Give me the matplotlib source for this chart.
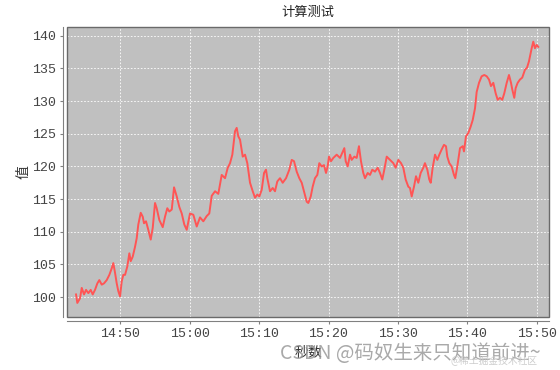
"""计算测试 -- time series of a value sampled over roughly one hour (14:43 - 15:50)."""
from datetime import datetime, timedelta

import matplotlib
matplotlib.use("Agg")
import matplotlib.pyplot as plt
import matplotlib.dates as mdates
from matplotlib.patches import Rectangle

plt.rcParams["font.family"] = ["Noto Sans CJK SC", "DejaVu Sans"]

TITLE = "计算测试"
X_LABEL = "秒数"
Y_LABEL = "值"

# minutes after 14:40
minutes = [
    3.62, 3.80, 4.19, 4.44, 4.77, 5.06, 5.39, 5.73, 6.02, 6.35,
    6.69, 6.97, 7.32, 7.65, 8.04, 8.42, 8.76, 8.99, 9.24, 9.48,
    9.71, 9.96, 10.20, 10.43, 10.68, 11.01, 11.30, 11.50, 11.79, 12.12,
    12.36, 12.59, 12.94, 13.23, 13.41, 13.70, 14.03, 14.38, 14.67, 15.00,
    15.24, 15.62, 16.11, 16.44, 16.77, 17.06, 17.41, 17.74, 18.13, 18.50,
    18.85, 19.22, 19.57, 20.04, 20.52, 21.01, 21.48, 21.96, 22.45, 22.82,
    23.17, 23.65, 24.12, 24.61, 25.09, 25.48, 25.81, 26.14, 26.53, 26.77,
    27.00, 27.25, 27.64, 27.97, 28.30, 28.69, 29.08, 29.41, 29.74, 30.03,
    30.37, 30.71, 30.99, 31.18, 31.57, 31.96, 32.29, 32.62, 33.01, 33.40,
    33.88, 34.35, 34.70, 35.03, 35.42, 35.79, 36.14, 36.47, 36.86, 37.09,
    37.44, 37.72, 38.05, 38.39, 38.67, 39.02, 39.35, 39.64, 39.88, 40.07,
    40.36, 40.69, 41.18, 41.66, 41.99, 42.28, 42.48, 42.77, 43.10, 43.34,
    43.72, 44.06, 44.39, 44.68, 45.01, 45.26, 45.65, 45.98, 46.31, 46.70,
    47.09, 47.42, 47.75, 48.04, 48.39, 48.86, 49.34, 49.68, 50.06, 50.45,
    50.78, 51.12, 51.50, 51.74, 51.99, 52.32, 52.61, 52.94, 53.28, 53.66,
    53.90, 54.24, 54.52, 54.73, 55.01, 55.35, 55.68, 55.97, 56.31, 56.64,
    56.93, 57.12, 57.41, 57.75, 58.08, 58.27, 58.56, 58.95, 59.34, 59.52,
    59.81, 60.14, 60.49, 60.78, 61.11, 61.35, 61.69, 62.07, 62.45, 62.80,
    63.13, 63.41, 63.75, 64.09, 64.38, 64.71, 65.04, 65.33, 65.68, 66.01,
    66.30, 66.48, 66.77, 66.97, 67.26, 67.59, 67.92, 68.31, 68.60, 68.89,
    69.08, 69.28, 69.51, 69.75, 70.00, 70.23,
]
values = [
    100.4, 99.1, 99.8, 101.4, 100.4, 101.1, 100.6, 101.1, 100.4, 101.1,
    102.1, 102.6, 101.9, 102.1, 102.6, 103.4, 104.4, 105.2, 103.7, 102.1,
    100.9, 100.1, 102.4, 103.4, 103.4, 104.7, 106.7, 105.5, 106.2, 107.7,
    109.0, 111.1, 112.9, 112.3, 111.3, 111.6, 110.3, 108.8, 110.6, 114.4,
    113.6, 111.8, 110.7, 112.3, 113.6, 113.1, 113.4, 116.8, 115.4, 113.8,
    112.8, 111.1, 110.3, 112.8, 112.6, 110.8, 112.2, 111.6, 112.4, 112.8,
    115.5, 116.2, 115.8, 118.7, 118.2, 119.8, 120.5, 121.8, 125.4, 125.9,
    124.6, 124.1, 121.5, 121.8, 120.5, 117.5, 116.2, 115.2, 115.7, 115.4,
    116.4, 119.0, 119.5, 118.2, 116.2, 116.7, 116.2, 117.7, 118.2, 117.5,
    118.2, 119.5, 121.0, 120.8, 119.2, 118.2, 117.5, 116.2, 114.6, 114.4,
    115.4, 116.9, 118.2, 118.7, 120.5, 120.0, 120.2, 119.0, 120.0, 121.5,
    120.8, 121.3, 121.8, 121.3, 122.1, 122.8, 120.8, 120.0, 121.8, 121.0,
    121.5, 121.3, 123.1, 120.8, 119.0, 118.2, 119.0, 118.7, 119.5, 119.2,
    119.8, 119.0, 118.0, 119.5, 121.5, 121.0, 120.5, 119.8, 121.0, 120.5,
    119.8, 118.0, 116.9, 116.7, 115.4, 116.9, 118.5, 117.5, 119.0, 119.8,
    120.5, 119.5, 118.0, 117.5, 119.8, 121.8, 121.0, 121.8, 122.6, 123.3,
    123.1, 121.5, 120.5, 120.0, 118.7, 118.2, 120.0, 122.8, 123.1, 122.3,
    124.6, 125.1, 126.1, 127.1, 128.9, 131.4, 132.8, 133.8, 134.0, 133.8,
    133.3, 132.3, 132.8, 131.2, 130.2, 130.5, 130.2, 131.2, 132.8, 134.0,
    132.8, 131.8, 130.5, 132.0, 132.8, 133.3, 133.6, 134.8, 135.1, 136.1,
    137.1, 138.1, 139.1, 138.1, 138.6, 138.3,
]

BASE = datetime(2023, 1, 1, 14, 40)
times = [BASE + timedelta(minutes=m) for m in minutes]

fig = plt.figure(figsize=(5.6, 3.7), dpi=100)
ax = fig.add_axes([0.1202, 0.1424, 0.8596, 0.7838])
ax.set_facecolor("#c0c0c0")

ax.plot(times, values, color="#ff5555", linewidth=1.4)

ax.set_xlim(BASE + timedelta(minutes=2.36), BASE + timedelta(minutes=71.73))
ax.set_ylim(96.9, 141.3)
ax.yaxis.set_major_locator(plt.MultipleLocator(5))
ax.xaxis.set_major_locator(mdates.MinuteLocator(byminute=range(0, 60, 10)))
ax.xaxis.set_major_formatter(mdates.DateFormatter("%H:%M"))

ax.grid(True, color="white", linestyle=(0, (2, 2)), linewidth=0.6)
ax.set_axisbelow(True)

# JFreeChart style: axes lines sit a few pixels off the plot box
for s in ("top", "right"):
    ax.spines[s].set_visible(False)
for s in ("left", "bottom"):
    ax.spines[s].set_position(("outward", 3))
    ax.spines[s].set_color("#808080")
ax.add_patch(Rectangle((0, 0), 1, 1, transform=ax.transAxes, fill=False,
                       edgecolor="#6a6a6a", linewidth=1.0, zorder=5, clip_on=False))

ax.tick_params(axis="both", length=2, color="#808080", labelcolor="#444444",
               pad=3)
for lab in ax.get_xticklabels() + ax.get_yticklabels():
    lab.set_family("Liberation Mono")
    lab.set_fontsize(9.5)

ax.set_title(TITLE, fontsize=9.5, color="#222222", pad=8)
ax.set_ylabel(Y_LABEL, fontsize=10, color="#333333", labelpad=1)
ax.set_xlabel(X_LABEL, fontsize=10, color="#333333", labelpad=4)

# site watermark present on the picture
fig.text(0.500, 0.030, "CSDN @码奴生来只知道前进~", fontsize=14,
         color="#9a9a9a", alpha=0.85)
fig.text(0.805, 0.016, "@稀土掘金技术社区", fontsize=7,
         color="#c8c8c8", alpha=0.9)

fig.savefig("out.png", dpi=100)
plt.close(fig)
